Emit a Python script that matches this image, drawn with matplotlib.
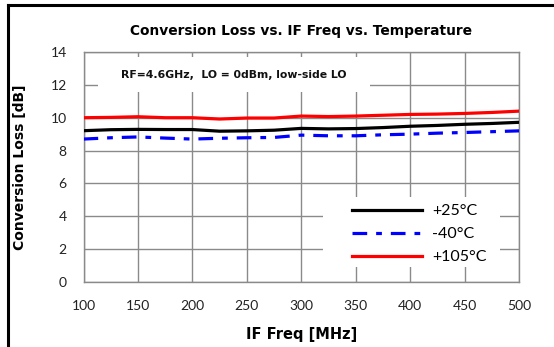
"""Conversion loss vs. IF frequency at three temperatures."""

import matplotlib

matplotlib.use("Agg")
import matplotlib.pyplot as plt
from matplotlib.lines import Line2D
from matplotlib.patches import Rectangle

# data
if_freq_mhz = [100, 125, 150, 175, 200, 225, 250, 275, 300, 325, 350, 375, 400, 425, 450, 475, 500]
loss_25c = [9.21, 9.27, 9.29, 9.28, 9.28, 9.18, 9.20, 9.24, 9.35, 9.32, 9.34, 9.40, 9.48, 9.53, 9.60, 9.65, 9.72]
loss_m40c = [8.70, 8.78, 8.83, 8.76, 8.70, 8.75, 8.78, 8.80, 8.94, 8.90, 8.90, 8.96, 9.00, 9.06, 9.10, 9.15, 9.20]
loss_105c = [10.00, 10.02, 10.06, 10.00, 10.00, 9.92, 9.98, 9.98, 10.10, 10.07, 10.10, 10.15, 10.20, 10.22, 10.26, 10.32, 10.40]
series_labels = ["+25\u00b0C", "-40\u00b0C", "+105\u00b0C"]
x_ticks = [100, 150, 200, 250, 300, 350, 400, 450, 500]
y_ticks = [0, 2, 4, 6, 8, 10, 12, 14]

W, H = 554, 347
GRID = "#8a8a8a"
TICK_FONT = ["Lato", "DejaVu Sans"]

fig = plt.figure(figsize=(W / 100, H / 100), dpi=100)
ax = fig.add_axes([83.5 / W, 1 - 282 / H, 435.5 / W, 230 / H])

ax.set_xlim(100, 500)
ax.set_ylim(0, 14)
ax.set_xticks(x_ticks)
ax.set_yticks(y_ticks)
ax.grid(True, color=GRID, linewidth=1.0, zorder=0)
ax.set_axisbelow(True)
for side in ("top", "right", "left", "bottom"):
    ax.spines[side].set_color(GRID)
    ax.spines[side].set_linewidth(1.0)
ax.tick_params(length=0, labelsize=10, colors="#222222")
ax.tick_params(axis="x", pad=13)
ax.tick_params(axis="y", pad=12)
for lbl in ax.get_xticklabels() + ax.get_yticklabels():
    lbl.set_family(TICK_FONT)

# white boxes that hide the grid behind the note and the legend
ax.add_patch(Rectangle((113.3, 11.56), 249.9, 2.14, facecolor="white", edgecolor="none", zorder=1))
ax.add_patch(Rectangle((320.0, 0.91), 162.6, 4.26, facecolor="white", edgecolor="none", zorder=1))

ax.plot(if_freq_mhz, loss_25c, color="black", linewidth=2.3, label=series_labels[0], zorder=3)
ax.plot(if_freq_mhz, loss_m40c, color="#0000ff", linewidth=2.3, dashes=(4.6, 2.8, 1.8, 2.8),
        label=series_labels[1], zorder=3)
ax.plot(if_freq_mhz, loss_105c, color="#ff0000", linewidth=2.3, label=series_labels[2], zorder=3)

ax.text(238, 12.62, "RF=4.6GHz,  LO = 0dBm, low-side LO", ha="center", va="center",
        fontsize=7.8, fontweight="bold", color="#111111", zorder=2)

ax.legend(loc="upper left", bbox_to_anchor=(0.6165, 0.338), frameon=False,
          handlelength=4.4, handletextpad=0.6, labelspacing=0.55, borderpad=0, borderaxespad=0,
          prop={"family": TICK_FONT, "size": 11.5})

ax.set_title("Conversion Loss vs. IF Freq vs. Temperature", fontsize=9.9, fontweight="bold", pad=12)
ax.set_xlabel("IF Freq [MHz]", fontsize=10.5, fontweight="bold", labelpad=11)
ax.set_ylabel("Conversion Loss [dB]", fontsize=10, fontweight="bold", labelpad=17)

# outer frame (left and top edges only)
fig.add_artist(Line2D([8 / W, 8 / W], [0, 1 - 5 / H], color="black", linewidth=2.2))
fig.add_artist(Line2D([8 / W, 1], [1 - 5 / H, 1 - 5 / H], color="black", linewidth=2.2))

fig.savefig("out.png", dpi=100)
